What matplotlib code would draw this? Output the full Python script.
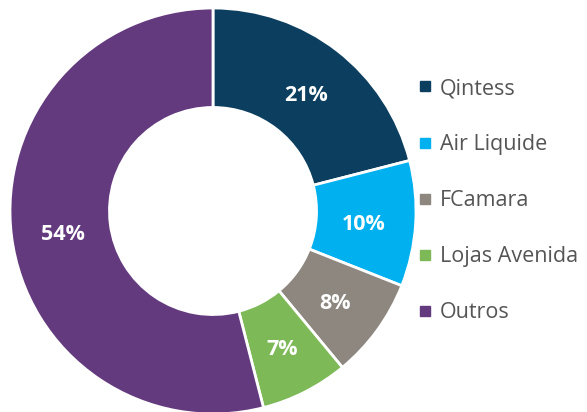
import matplotlib
matplotlib.use("Agg")
import matplotlib.pyplot as plt
from matplotlib.lines import Line2D

labels = ["Qintess", "Air Liquide", "FCamara", "Lojas Avenida", "Outros"]
values = [21, 10, 8, 7, 54]
colors = ["#0C3F5F", "#00B0EF", "#8D8780", "#7DB957", "#633A7D"]

plt.rcParams['font.family'] = ['Open Sans', 'DejaVu Sans']

fig = plt.figure(figsize=(5.87, 4.12), dpi=100)
W, H = 587, 412
cx, cy, r = 213, 412 - 211, 203
ax = fig.add_axes([(cx - r) / W, (cy - r) / H, 2 * r / W, 2 * r / H])

wedges, texts, autotexts = ax.pie(
    values, colors=colors, startangle=90, counterclock=False,
    autopct=lambda p: f"{p:.0f}%", pctdistance=0.745,
    wedgeprops=dict(width=0.49, edgecolor="white", linewidth=2),
    textprops=dict(color="white", fontsize=15.5, fontweight="bold"))
for t in autotexts:
    x, y = t.get_position()
    t.set_position((x, y - 0.02))
ax.set_xlim(-1, 1)
ax.set_ylim(-1, 1)
ax.set_aspect("equal")
ax.axis("off")

# título cortado no topo
fig.text(2 / W, 1 + 6.5 / H, "(Receita por cliente em 2023, em %)",
         color="#0C3F5F", fontsize=14, va="baseline", ha="left")

handles = [Line2D([0], [0], marker="s", linestyle="", markersize=6.5,
                  markerfacecolor=c, markeredgecolor=c) for c in colors]
fig.legend(handles, labels, loc="upper left", bbox_to_anchor=(414 / W, 1 - 78 / H),
           frameon=False, labelspacing=1.63, handletextpad=0.2, handlelength=1.0,
           fontsize=15.5, labelcolor="#555555", borderaxespad=0, borderpad=0)

fig.savefig("out.png", dpi=100)
